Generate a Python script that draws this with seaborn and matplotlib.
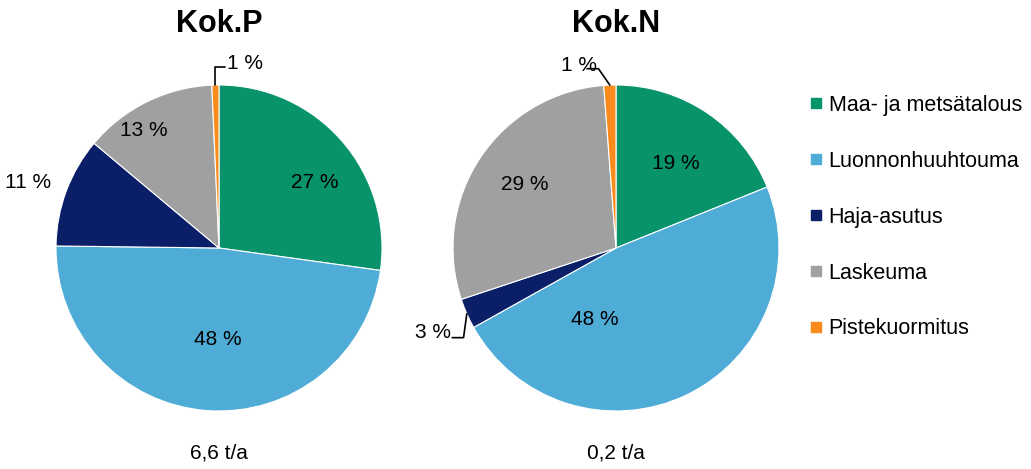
import numpy as np
import matplotlib
matplotlib.use("Agg")
import matplotlib.pyplot as plt
import seaborn as sns
from matplotlib.lines import Line2D

# ---- data ----
categories = ["Maa- ja metsätalous", "Luonnonhuuhtouma", "Haja-asutus", "Laskeuma", "Pistekuormitus"]
kokP_values = [27.2, 48.0, 10.9, 13.2, 0.7]
kokN_values = [18.9, 48.0, 3.0, 28.9, 1.2]
kokP_labels = ["27 %", "48 %", "11 %", "13 %", "1 %"]
kokN_labels = ["19 %", "48 %", "3 %", "29 %", "1 %"]
titles = ["Kok.P", "Kok.N"]
totals = ["6,6 t/a", "0,2 t/a"]

colors = ["#08936A", "#4FACD6", "#0B1F69", "#A0A0A0", "#F98A1C"]

sns.set_theme(style="white")
plt.rcParams["font.family"] = ["Liberation Sans", "DejaVu Sans"]

W, H = 1031, 469
fig = plt.figure(figsize=(W / 100, H / 100), dpi=100)

# layout (pixel centers, radius) and label positions in radius units
centers = [(219, 248), (616, 248)]
R = 163
label_pos = [
    [(0.59, 0.40), (-0.01, -0.56), (-1.17, 0.40), (-0.46, 0.72), (0.16, 1.13)],
    [(0.37, 0.52), (-0.13, -0.44), (-1.12, -0.52), (-0.56, 0.39), (-0.23, 1.12)],
]
M = 1.45  # axes half-extent in radius units
FS = 15

for i, (vals, labs) in enumerate([(kokP_values, kokP_labels), (kokN_values, kokN_labels)]):
    cx, cy = centers[i]
    half = R * M
    ax = fig.add_axes([(cx - half) / W, (H - cy - half) / H, 2 * half / W, 2 * half / H])
    wedges, _ = ax.pie(vals, colors=colors, startangle=90, counterclock=False,
                       radius=1.0, wedgeprops=dict(linewidth=0.8, edgecolor="white"))
    ax.set_xlim(-M, M)
    ax.set_ylim(-M, M)
    ax.set_aspect("equal")
    ax.axis("off")
    for j, lab in enumerate(labs):
        x, y = label_pos[i][j]
        ax.text(x, y, lab, ha="center", va="center", fontsize=FS, color="black")
    ax.text(0, 1.375, titles[i], ha="center", va="center", fontsize=22, fontweight="bold",
            color="black")
    ax.text(0, -1.26, totals[i], ha="center", va="center", fontsize=FS, color="black")

    # leader lines
    w_or = wedges[4]
    ang_or = np.deg2rad((w_or.theta1 + w_or.theta2) / 2)
    px, py = np.cos(ang_or), np.sin(ang_or)
    if i == 0:
        ax.plot([px, px, px + 0.06], [py, 1.11, 1.11], color="black", lw=1.2, clip_on=False)
    else:
        ax.plot([px, px - 0.07, px - 0.14], [py, 1.10, 1.10], color="black", lw=1.2, clip_on=False)
        w_n = wedges[2]
        ang_n = np.deg2rad((w_n.theta1 + w_n.theta2) / 2)
        nx, ny = np.cos(ang_n), np.sin(ang_n)
        ax.plot([nx, nx - 0.02, nx - 0.09], [ny, -0.55, -0.55], color="black", lw=1.2, clip_on=False)

handles = [Line2D([0], [0], marker="s", linestyle="none", markersize=7,
                  markerfacecolor=c, markeredgecolor=c) for c in colors]
leg = fig.legend(handles, categories, loc="upper left", bbox_to_anchor=(805 / W, 1 - 95 / H),
                 frameon=False, fontsize=15.5, labelspacing=1.62, handletextpad=0.1,
                 handlelength=1.0, borderaxespad=0, borderpad=0)
for t in leg.get_texts():
    t.set_color("black")

fig.savefig("out.png", dpi=100, facecolor="white")
